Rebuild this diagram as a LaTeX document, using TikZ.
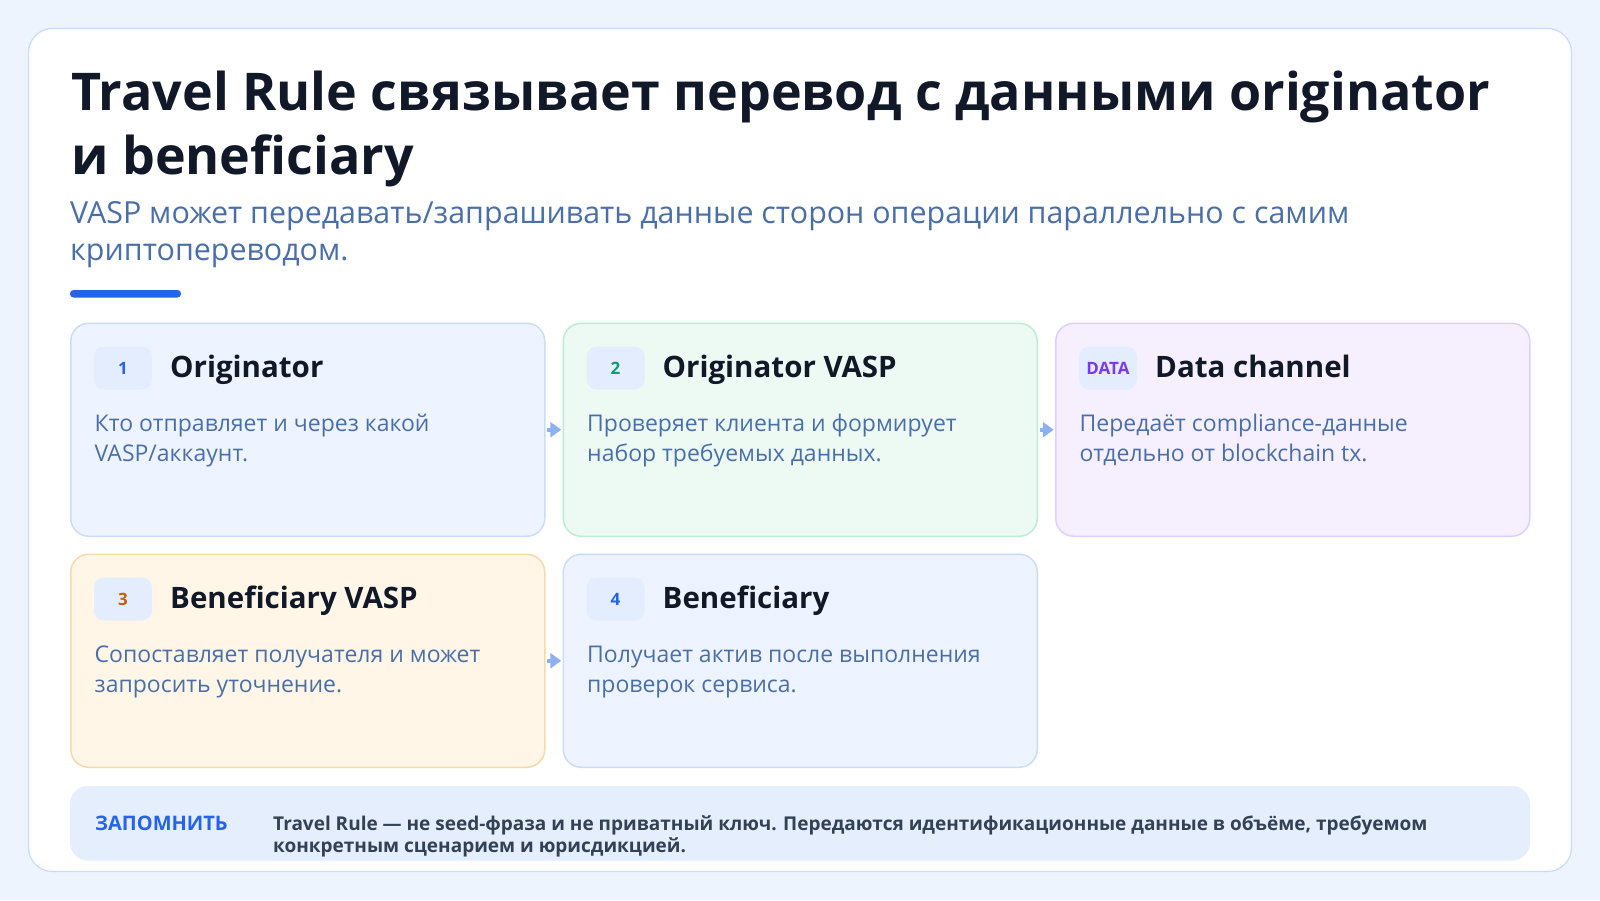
\documentclass[tikz,border=0pt]{standalone}
\usepackage{fontspec}
\setmainfont{Open Sans}
\usetikzlibrary{arrows.meta}

\definecolor{pagebg}{HTML}{EEF4FE}
\definecolor{frame}{HTML}{C7DBFB}
\definecolor{ink}{HTML}{111827}
\definecolor{subblue}{HTML}{4A6FA8}
\definecolor{accent}{HTML}{2563EB}
\definecolor{cardblue}{HTML}{EEF4FF}
\definecolor{edgeblue}{HTML}{CADCF8}
\definecolor{cardgreen}{HTML}{ECFAF3}
\definecolor{edgegreen}{HTML}{BEEBD3}
\definecolor{cardviolet}{HTML}{F5EFFE}
\definecolor{edgeviolet}{HTML}{E0CFFB}
\definecolor{cardorange}{HTML}{FFF6E8}
\definecolor{edgeorange}{HTML}{F5D9A8}
\definecolor{badgebg}{HTML}{E3EDFD}
\definecolor{numgreen}{HTML}{0F9D6E}
\definecolor{numviolet}{HTML}{7C3AED}
\definecolor{numorange}{HTML}{C2610C}
\definecolor{arrowblue}{HTML}{8CB0F0}
\definecolor{notebg}{HTML}{E4EEFD}
\definecolor{notetext}{HTML}{334155}

\tikzset{
  card/.style={draw, line width=1.5pt, rounded corners=18pt, anchor=north west,
    minimum width=474pt, minimum height=213pt, inner sep=0pt},
  bluecard/.style={fill=cardblue, draw=edgeblue},
  greencard/.style={fill=cardgreen, draw=edgegreen},
  violetcard/.style={fill=cardviolet, draw=edgeviolet},
  orangecard/.style={fill=cardorange, draw=edgeorange},
  badge/.style={fill=badgebg, rounded corners=10pt, minimum width=58pt,
    minimum height=43pt, inner sep=0pt, font=\fontsize{17}{17}\selectfont\bfseries},
  head/.style={anchor=base west, inner sep=0pt, text=ink,
    font=\fontsize{29.5}{34}\selectfont\bfseries},
  body/.style={anchor=base west, inner sep=0pt, text=subblue,
    font=\fontsize{23}{30}\selectfont},
  flow/.style={draw=arrowblue, line width=3.5pt, -{Triangle[length=11pt,width=15pt]},
    shorten <=1.75pt, shorten >=1.25pt},
}

% one step of the chain: name, top left corner, palette, badge colour, badge, heading, two lines
\newcommand{\infocard}[8]{
  \node[card,#3] (#1) at #2 {};
  \node[badge,text=#4] (#1badge) at ([xshift=53pt,yshift=-45.5pt]#1.north west) {#5};
  \node[head] (#1head) at ([xshift=100pt,yshift=-54.5pt]#1.north west) {#6};
  \node[body] (#1lineA) at ([xshift=24.5pt,yshift=-108.5pt]#1.north west) {#7};
  \node[body] (#1lineB) at ([xshift=24.5pt,yshift=-138.5pt]#1.north west) {#8};
}

\begin{document}
\begin{tikzpicture}[x=1pt,y=-1pt]
    \useasboundingbox (0,0) rectangle (1600,900);
    \fill[pagebg] (0,0) rectangle (1600,900);
    \draw[draw=frame, fill=white, line width=1.2pt, rounded corners=24pt] (28.5,28.5) rectangle (1571.5,871.5);

    % heading
    \node[anchor=base west, inner sep=0pt, text=ink, font=\fontsize{52}{64}\selectfont\bfseries] (titleA) at (71,110) {Travel Rule связывает перевод с данными originator};
    \node[anchor=base west, inner sep=0pt, text=ink, font=\fontsize{52}{64}\selectfont\bfseries] (titleB) at (71,174) {и beneficiary};
    \node[anchor=base west, inner sep=0pt, text=subblue, font=\fontsize{30.4}{36}\selectfont] (subA) at (70,223.5) {VASP может передавать/запрашивать данные сторон операции параллельно с самим};
    \node[anchor=base west, inner sep=0pt, text=subblue, font=\fontsize{30.4}{36}\selectfont] (subB) at (70,260.5) {криптопереводом.};
    \fill[accent, rounded corners=3.5pt] (70,290) rectangle (181,297.5);

    % cards
    \infocard{orig}{(70,322.5)}{bluecard}{accent}{1}{Originator}{Кто отправляет и через какой}{VASP/аккаунт.}
    \infocard{origvasp}{(562.5,322.5)}{greencard}{numgreen}{2}{Originator VASP}{Проверяет клиента и формирует}{набор требуемых данных.}
    \infocard{channel}{(1055,322.5)}{violetcard}{numviolet}{DATA}{Data channel}{Передаёт compliance-данные}{отдельно от blockchain tx.}
    \infocard{benvasp}{(70,553.5)}{orangecard}{numorange}{3}{Beneficiary VASP}{Сопоставляет получателя и может}{запросить уточнение.}
    \infocard{ben}{(562.5,553.5)}{bluecard}{accent}{4}{Beneficiary}{Получает актив после выполнения}{проверок сервиса.}

    \draw[flow] (orig.east) -- (origvasp.west);
    \draw[flow] (origvasp.east) -- (channel.west);
    \draw[flow] (benvasp.east) -- (ben.west);

    % note
    \fill[notebg, rounded corners=18pt] (70,786) rectangle (1530,860.5);
    \node[anchor=base west, inner sep=0pt, text=accent, font=\fontsize{20}{23}\selectfont\bfseries] (notetag) at (95,830) {ЗАПОМНИТЬ};
    \node[anchor=base west, inner sep=0pt, text=notetext, font=\fontsize{19}{23}\selectfont\bfseries] (noteA) at (273,830) {Travel Rule — не seed-фраза и не приватный ключ. Передаются идентификационные данные в объёме, требуемом};
    \node[anchor=base west, inner sep=0pt, text=notetext, font=\fontsize{19}{23}\selectfont\bfseries] (noteB) at (273,852.5) {конкретным сценарием и юрисдикцией.};
\end{tikzpicture}
\end{document}
